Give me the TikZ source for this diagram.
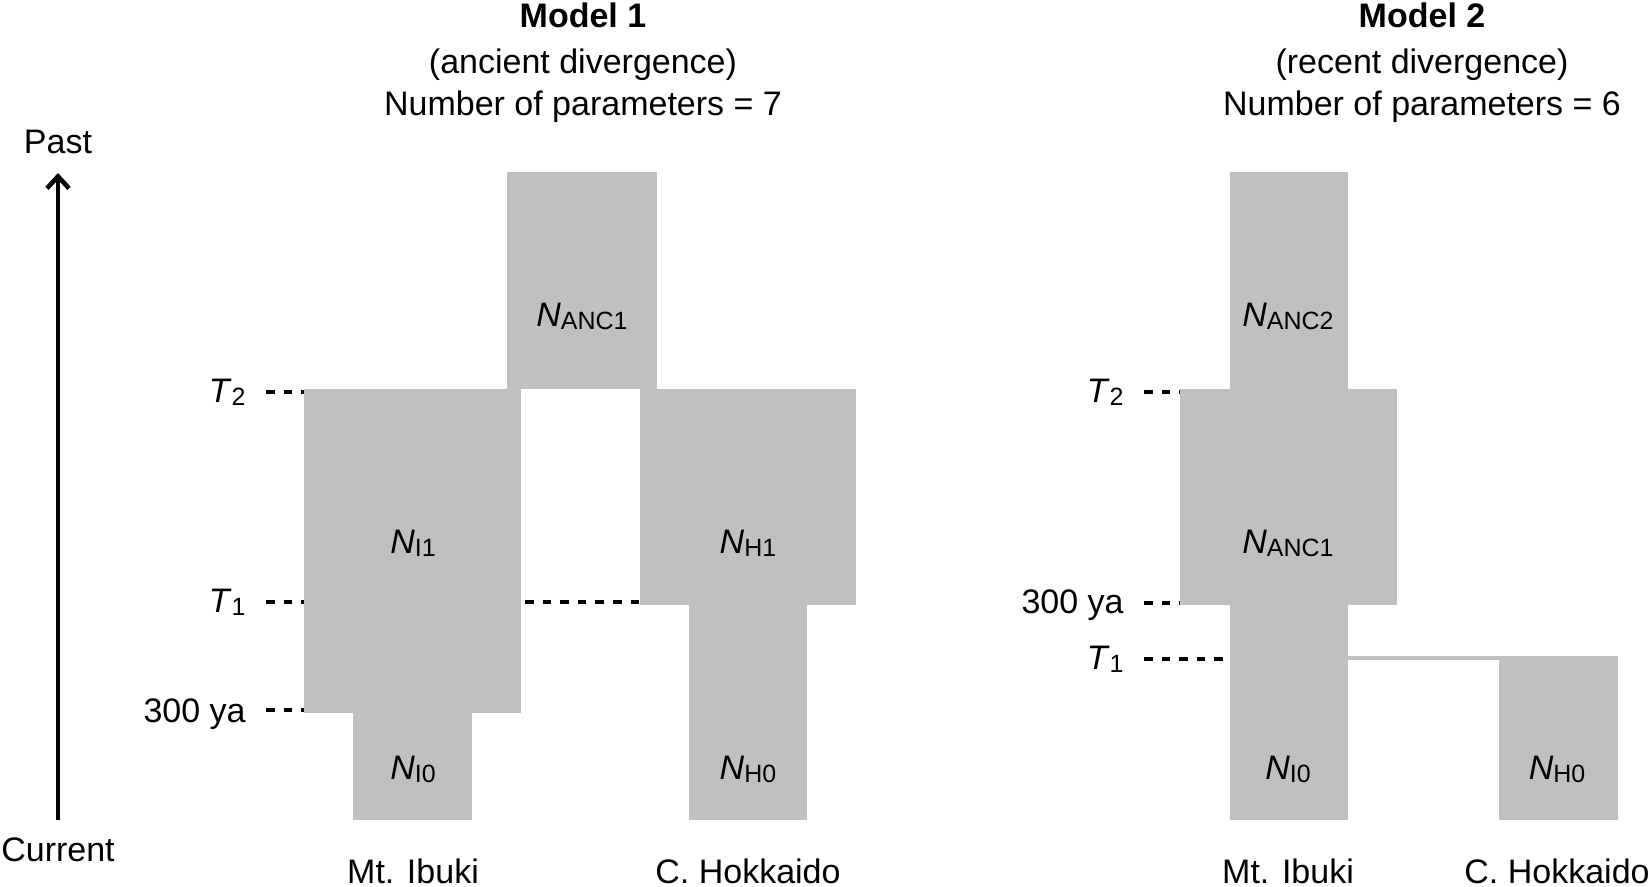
\documentclass[tikz,border=0pt]{standalone}
\usepackage{fontspec}
\setmainfont{Liberation Sans}
\usetikzlibrary{arrows.meta,positioning}
\definecolor{popgrey}{RGB}{192,192,192}
\tikzset{
  pop/.style={fill=popgrey},
  lbl/.style={inner sep=0pt,anchor=base,font=\fontsize{17}{20}\selectfont},
  tick/.style={dash pattern=on 4.3pt off 4.5pt,line width=2pt},
}
\newcommand{\popN}[2]{\textit{#1}\raisebox{-1.5pt}{\fontsize{12.5}{14}\selectfont #2}}

\begin{document}
\begin{tikzpicture}[x=0.5pt,y=-0.5pt]
	\useasboundingbox (0,0) rectangle (1652,887);
	% time axis
	\draw[-{Straight Barb[length=6pt,width=11pt]},line width=2.3pt] (58,820) coordinate(now) -- (58,173) coordinate(past);
	\node[lbl] (pastlbl) at (58,154) {Past};
	\node[lbl] (nowlbl) at (58,861) {Current};

	% Model 1
	\node[lbl] (m1title) at (583,28) {\bfseries Model 1};
	\node[lbl] (m1sub) at (583,74) {(ancient divergence)};
	\node[lbl] (m1par) at (583,116) {Number of parameters = 7};
	\fill[pop] (507,172) rectangle (657,389);
	\fill[pop] (304,389) coordinate(i1nw) rectangle (521,713);
	\fill[pop] (353,713) rectangle (472,820);
	\fill[pop] (640,389) rectangle (856,605);
	\fill[pop] (689,605) rectangle (807,820);
	\coordinate (i1t2) at (304,392);
	\coordinate (i1t1) at (304,602);
	\coordinate (i1ya) at (304,710);
	\coordinate (i1r) at (521,602);
	\coordinate (h1l) at (640,602);
	\node[lbl,anchor=base east] (m1t2) at (246,402) {\popN{T}{2}};
	\node[lbl,anchor=base east] (m1t1) at (246,612) {\popN{T}{1}};
	\node[lbl,anchor=base east] (m1ya) at (246,722) {300 ya};
	\draw[tick] (m1t2.east |- i1t2) ++(20,0) -- (i1t2);
	\draw[tick] (m1t1.east |- i1t1) ++(20,0) -- (i1t1);
	\draw[tick] (m1ya.east |- i1ya) ++(20,0) -- (i1ya);
	\draw[tick] (i1r) ++(4,0) -- (h1l);
	\node[lbl] (anc1a) at (582,327) {\popN{N}{ANC1}};
	\node[lbl] (i1) at (413,553) {\popN{N}{I1}};
	\node[lbl] (h1) at (748,553) {\popN{N}{H1}};
	\node[lbl] (i0a) at (413,779) {\popN{N}{I0}};
	\node[lbl] (h0a) at (748,779) {\popN{N}{H0}};
	\node[lbl] (ibukia) at (413,883) {Mt. Ibuki};
	\node[lbl] (hokka) at (748,883) {C. Hokkaido};

	% Model 2
	\node[lbl] (m2title) at (1422,28) {\bfseries Model 2};
	\node[lbl] (m2sub) at (1422,74) {(recent divergence)};
	\node[lbl] (m2par) at (1422,116) {Number of parameters = 6};
	\fill[pop] (1230,172) rectangle (1348,389);
	\fill[pop] (1180,389) rectangle (1397,605);
	\fill[pop] (1230,605) rectangle (1348,820);
	\fill[pop] (1348,656) rectangle (1499,660);
	\fill[pop] (1499,656) rectangle (1618,820);
	\coordinate (a1t2) at (1180,392);
	\coordinate (a1ya) at (1180,603);
	\coordinate (i0t1) at (1230,659);
	\node[lbl,anchor=base east] (m2t2) at (1124,402) {\popN{T}{2}};
	\node[lbl,anchor=base east] (m2ya) at (1124,613) {300 ya};
	\node[lbl,anchor=base east] (m2t1) at (1124,669) {\popN{T}{1}};
	\draw[tick] (m2t2.east |- a1t2) ++(20,0) -- (a1t2);
	\draw[tick] (m2ya.east |- a1ya) ++(20,0) -- (a1ya);
	\draw[tick] (m2t1.east |- i0t1) ++(20,0) -- (i0t1);
	\node[lbl] (anc2) at (1288,327) {\popN{N}{ANC2}};
	\node[lbl] (anc1b) at (1288,553) {\popN{N}{ANC1}};
	\node[lbl] (i0b) at (1288,779) {\popN{N}{I0}};
	\node[lbl] (h0b) at (1557,779) {\popN{N}{H0}};
	\node[lbl] (ibukib) at (1288,883) {Mt. Ibuki};
	\node[lbl] (hokkb) at (1557,883) {C. Hokkaido};
\end{tikzpicture}
\end{document}
